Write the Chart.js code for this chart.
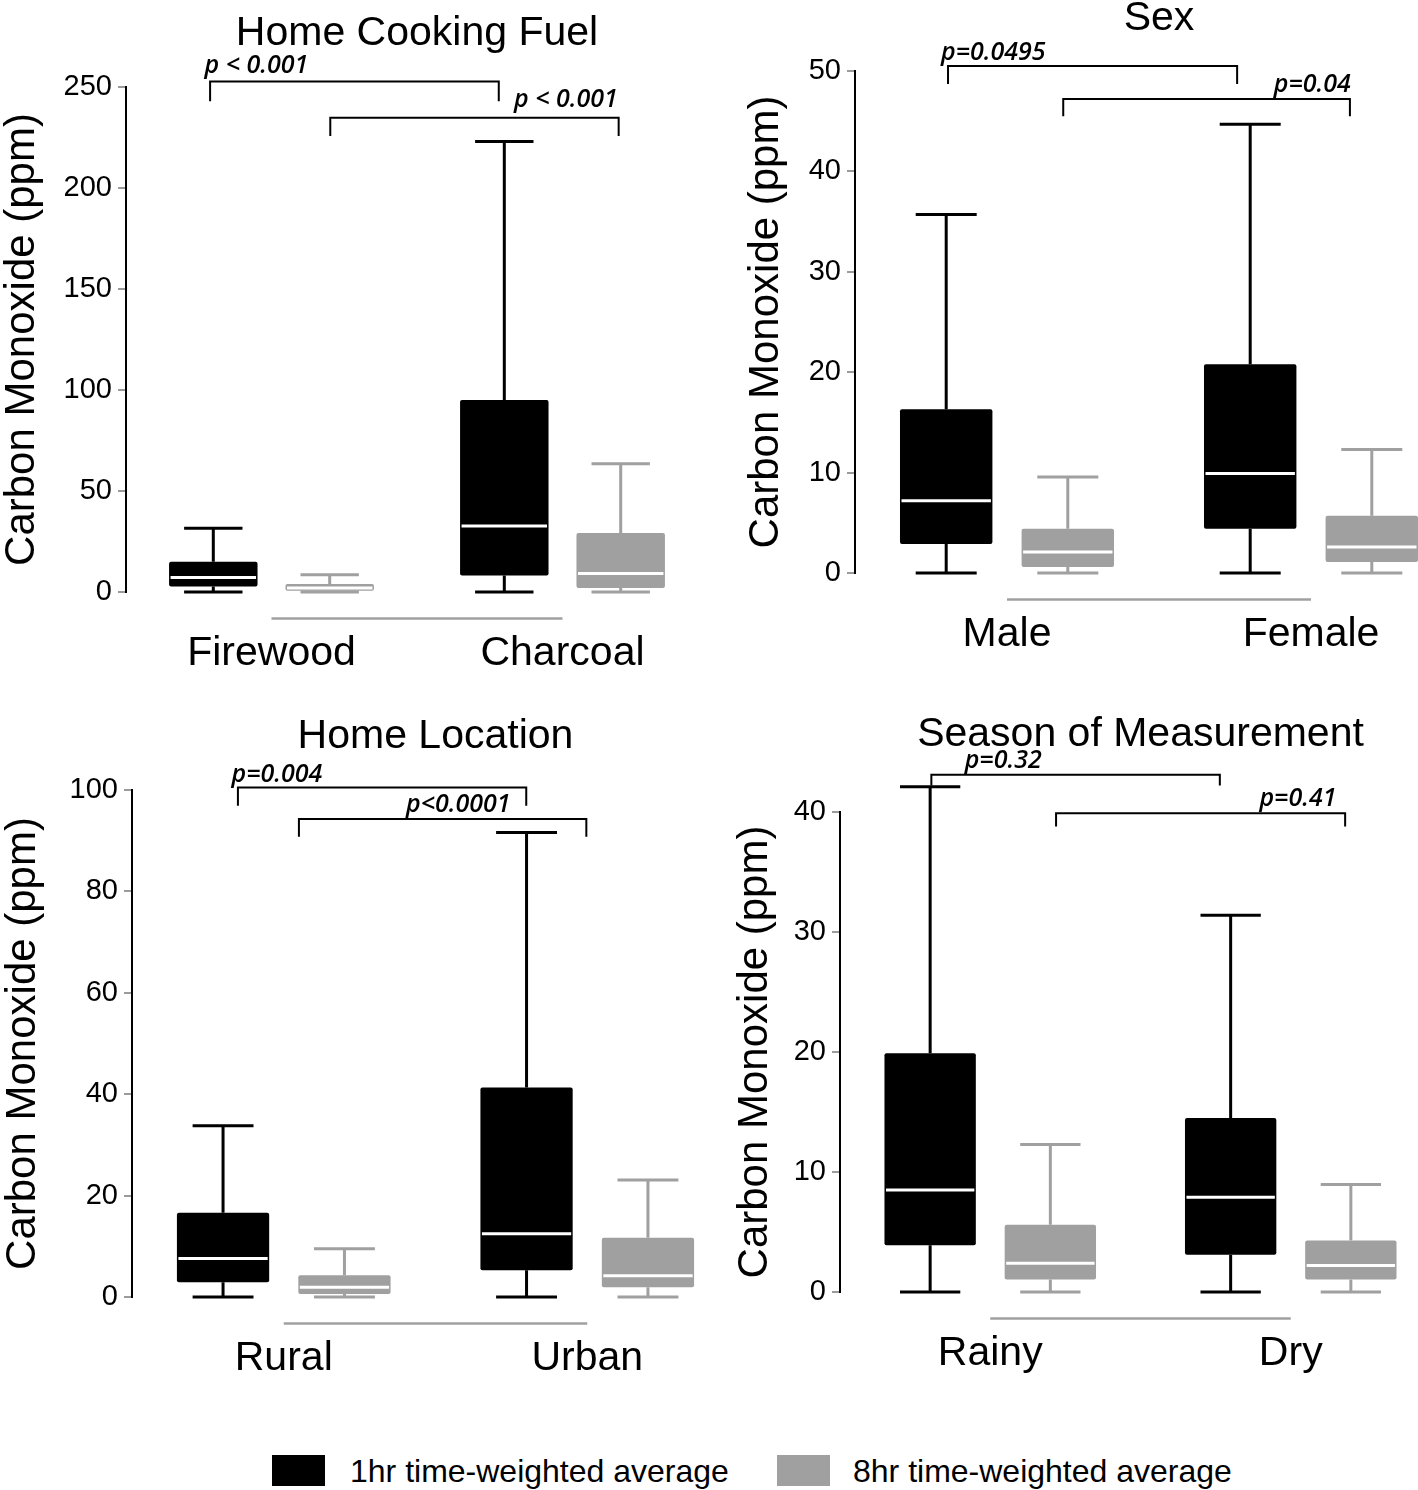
<!DOCTYPE html>
<html><head><meta charset="utf-8">
<script src="https://cdn.jsdelivr.net/npm/chart.js@4.4.1/dist/chart.umd.min.js"></script>
<style>
html,body{margin:0;padding:0;background:#fff;overflow:hidden;width:1418px;height:1490px;position:relative;}
canvas{position:absolute;}
.leg{position:absolute;font-family:'Liberation Sans',Arial,sans-serif;font-size:32px;color:#000;line-height:32px;white-space:nowrap}
.sw{position:absolute;width:53px;height:31px}
</style></head><body>
<canvas id="c1" style="left:0px;top:0px" width="708" height="692"></canvas>
<canvas id="c2" style="left:740px;top:-10px" width="723" height="683"></canvas>
<canvas id="c3" style="left:0px;top:680px" width="739" height="717"></canvas>
<canvas id="c4" style="left:730px;top:680px" width="711" height="712"></canvas>
<div class="sw" style="left:272px;top:1455px;background:#000"></div>
<div class="leg" style="left:350px;top:1455px">1hr time-weighted average</div>
<div class="sw" style="left:777px;top:1455px;background:#a0a0a0"></div>
<div class="leg" style="left:853px;top:1455px">8hr time-weighted average</div>
<script>
// ---- data: five-number summaries per category [min, q1, median, q3, max] ----
const seriesNames = ['1hr time-weighted average', '8hr time-weighted average'];
const yAxisTitle = 'Carbon Monoxide (ppm)';

const fuelTitle = 'Home Cooking Fuel';
const fuelCats = ['Firewood', 'Charcoal'];
const fuel1hr = [[0, 2.7, 7.2, 15.0, 31.6], [0, 8.2, 32.7, 95.0, 223.0]];
const fuel8hr = [[0, 0.6, 2.0, 3.9, 8.6], [0, 2.0, 9.2, 29.2, 63.5]];
const fuelTicks = [0, 50, 100, 150, 200, 250];

const sexTitle = 'Sex';
const sexCats = ['Male', 'Female'];
const sex1hr = [[0, 2.9, 7.2, 16.3, 35.7], [0, 4.4, 9.9, 20.8, 44.7]];
const sex8hr = [[0, 0.6, 2.1, 4.4, 9.55], [0, 1.1, 2.6, 5.7, 12.3]];
const sexTicks = [0, 10, 20, 30, 40, 50];

const locTitle = 'Home Location';
const locCats = ['Rural', 'Urban'];
const loc1hr = [[0, 2.9, 7.6, 16.6, 33.8], [0, 5.3, 12.5, 41.3, 91.6]];
const loc8hr = [[0, 0.6, 1.9, 4.3, 9.5], [0, 1.9, 4.2, 11.7, 23.1]];
const locTicks = [0, 20, 40, 60, 80, 100];

const seasonTitle = 'Season of Measurement';
const seasonCats = ['Rainy', 'Dry'];
const season1hr = [[0, 3.9, 8.5, 19.9, 42.1], [0, 3.1, 7.9, 14.5, 31.4]];
const season8hr = [[0, 1.05, 2.4, 5.6, 12.3], [0, 1.05, 2.2, 4.3, 8.95]];
const seasonTicks = [0, 10, 20, 30, 40];

// significance labels
const fuelP = ['p < 0.001', 'p < 0.001'];
const sexP = ['p=0.0495', 'p=0.04'];
const locP = ['p=0.004', 'p<0.0001'];
const seasonP = ['p=0.32', 'p=0.41'];

// ---- annotation geometry (in category-index / data units) ----
const fuelBr = [
  {x1: -0.211, x2: 0.781, y: 252.7, end: 243, tx: -0.23, ty: 260.7, align: 'left'},
  {x1: 0.202, x2: 1.193, y: 234.8, end: 225.8, tx: 1.19, ty: 243.7, align: 'right'}];
const sexBr = [
  {x1: -0.194, x2: 0.757, y: 50.5, end: 48.7, tx: -0.217, ty: 51.8, align: 'left'},
  {x1: 0.185, x2: 1.128, y: 47.2, end: 45.5, tx: 1.131, ty: 48.6, align: 'right'}];
const locBr = [
  {x1: -0.151, x2: 0.799, y: 100.5, end: 96.9, tx: -0.172, ty: 103.0, align: 'left'},
  {x1: 0.050, x2: 0.997, y: 94.3, end: 90.8, tx: 0.575, ty: 97.0, align: 'center'}];
const seasonBr = [
  {x1: -0.196, x2: 0.764, y: 43.1, end: 42.2, tx: -0.085, ty: 44.3, align: 'left'},
  {x1: 0.219, x2: 1.181, y: 39.9, end: 38.8, tx: 1.152, ty: 41.1, align: 'right'}];

const FONT = "'Liberation Sans', Arial, sans-serif";
const GRAY = '#a0a0a0';

const boxPlugin = {
  id: 'boxAnnot',
  beforeDatasetsDraw(chart) {
    const {ctx} = chart; const y = chart.scales.y;
    ctx.save();
    chart.data.datasets.forEach((ds, di) => {
      const meta = chart.getDatasetMeta(di);
      meta.data.forEach((bar, i) => {
        const s = ds.stats[i];
        const cx = bar.x, w = bar.width, cap = w * 0.66;
        const p = s.map(v => y.getPixelForValue(v));
        ctx.strokeStyle = ds.whiskerColor; ctx.lineWidth = 3;
        ctx.beginPath();
        ctx.moveTo(cx, p[3]); ctx.lineTo(cx, p[4]);
        ctx.moveTo(cx, p[1]); ctx.lineTo(cx, p[0]);
        ctx.moveTo(cx - cap / 2, p[4]); ctx.lineTo(cx + cap / 2, p[4]);
        ctx.moveTo(cx - cap / 2, p[0]); ctx.lineTo(cx + cap / 2, p[0]);
        ctx.stroke();
      });
    });
    ctx.restore();
  },
  afterDatasetsDraw(chart) {
    const {ctx} = chart; const y = chart.scales.y;
    ctx.save();
    chart.data.datasets.forEach((ds, di) => {
      const meta = chart.getDatasetMeta(di);
      meta.data.forEach((bar, i) => {
        const py = y.getPixelForValue(ds.stats[i][2]);
        ctx.strokeStyle = '#fff'; ctx.lineWidth = 3;
        ctx.beginPath();
        ctx.moveTo(bar.x - bar.width / 2 + 1.5, py); ctx.lineTo(bar.x + bar.width / 2 - 1.5, py);
        ctx.stroke();
      });
    });
    ctx.restore();
  },
  afterDraw(chart, args, opts) {
    const {ctx, chartArea} = chart; const x = chart.scales.x, y = chart.scales.y;
    ctx.save();
    // grey baseline linking category centres
    ctx.strokeStyle = GRAY; ctx.lineWidth = 2.5;
    const gy = chartArea.bottom + 26.5;
    ctx.beginPath(); ctx.moveTo(x.getPixelForValue(0), gy); ctx.lineTo(x.getPixelForValue(1), gy); ctx.stroke();
    // significance brackets
    (opts.brackets || []).forEach((b, k) => {
      const x1 = x.getPixelForValue(b.x1), x2 = x.getPixelForValue(b.x2);
      const py = y.getPixelForValue(b.y), pe = y.getPixelForValue(b.end);
      ctx.strokeStyle = '#000'; ctx.lineWidth = 2;
      ctx.beginPath();
      ctx.moveTo(x1, pe); ctx.lineTo(x1, py); ctx.lineTo(x2, py); ctx.lineTo(x2, pe);
      ctx.stroke();
      ctx.fillStyle = '#000';
      ctx.font = "italic 600 25px 'Open Sans', Lato, sans-serif";
      ctx.textAlign = b.align; ctx.textBaseline = 'middle';
      ctx.fillText(opts.labels[k], x.getPixelForValue(b.tx), y.getPixelForValue(b.ty));
    });
    ctx.restore();
  }
};

function makeChart(id, cats, s1, s8, ticks, title, labels, brackets, yWidth, titlePad, yTitlePad) {
  return new Chart(document.getElementById(id), {
    type: 'bar',
    data: {
      labels: cats,
      datasets: [
        {label: seriesNames[0], data: s1.map(s => [s[1], s[3]]), stats: s1, whiskerColor: '#000',
         backgroundColor: '#000', borderWidth: 0, borderRadius: 2, borderSkipped: false,
         categoryPercentage: 0.8, barPercentage: 0.76},
        {label: seriesNames[1], data: s8.map(s => [s[1], s[3]]), stats: s8, whiskerColor: GRAY,
         backgroundColor: GRAY, borderWidth: 0, borderRadius: 2, borderSkipped: false,
         categoryPercentage: 0.8, barPercentage: 0.76}
      ]
    },
    options: {
      responsive: false, animation: false, devicePixelRatio: 1,
      layout: {padding: 0},
      plugins: {
        legend: {display: false}, tooltip: {enabled: false},
        title: {display: true, text: title, fullSize: false, color: '#000',
                font: {family: FONT, size: 41, weight: 'normal'}, padding: titlePad},
        boxAnnot: {brackets: brackets, labels: labels}
      },
      scales: {
        x: {
          grid: {display: false, drawTicks: false}, border: {display: false},
          ticks: {font: {family: FONT, size: 41}, color: '#000', padding: 37, maxRotation: 0, autoSkip: false},
          afterFit(s) { s.height = 100; }
        },
        y: {
          min: ticks[0], max: ticks[ticks.length - 1],
          afterBuildTicks(s) { s.ticks = ticks.map(v => ({value: v})); },
          grid: {drawOnChartArea: false, drawTicks: true, tickLength: 8, color: '#000',
                 tickColor: '#7a7a7a', tickWidth: 1.5, lineWidth: 2},
          border: {display: true, color: '#000', width: 2},
          ticks: {font: {family: FONT, size: 29}, color: '#000', padding: 6},
          title: {display: true, text: yAxisTitle, color: '#000', font: {family: FONT, size: 42},
                  padding: {top: yTitlePad, bottom: 0}},
          afterFit(s) { s.width = yWidth; }
        }
      }
    },
    plugins: [boxPlugin]
  });
}

makeChart('c1', fuelCats, fuel1hr, fuel8hr, fuelTicks, fuelTitle, fuelP, fuelBr, 126, {top: 9.4, bottom: 28.4}, -2.6);
makeChart('c2', sexCats, sex1hr, sex8hr, sexTicks, sexTitle, sexP, sexBr, 115, {top: 4.4, bottom: 27.4}, 1.4);
makeChart('c3', locCats, loc1hr, loc8hr, locTicks, locTitle, locP, locBr, 132, {top: 32.4, bottom: 28.4}, -1.6);
makeChart('c4', seasonCats, season1hr, season8hr, seasonTicks, seasonTitle, seasonP, seasonBr, 110, {top: 30.4, bottom: 52.4}, 0.4);
</script>
</body></html>
